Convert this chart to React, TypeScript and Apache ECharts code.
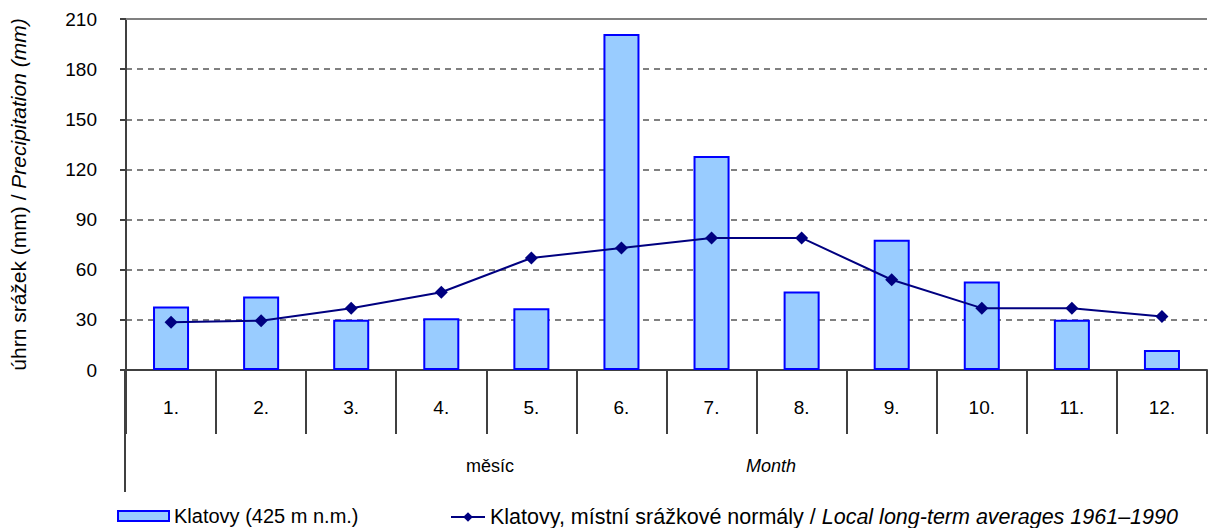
import React, { useEffect, useRef } from "react";
import * as echarts from "echarts";

const months = ["1.", "2.", "3.", "4.", "5.", "6.", "7.", "8.", "9.", "10.", "11.", "12."];
const precipitation = [38, 44, 30, 31, 37, 201, 128, 47, 78, 53, 30, 12];
const normals = [28.5, 29.5, 37, 46.5, 67, 73, 79, 79, 54, 37, 37, 32];
const barName = "Klatovy (425 m n.m.)";
const lineName = "Klatovy, místní srážkové normály / Local long-term averages 1961–1990";
const yTicks = { min: 0, max: 210, interval: 30 };

const FONT = "Liberation Sans, Arial, sans-serif";

export default function App() {
  const ref = useRef<HTMLDivElement>(null);
  useEffect(() => {
    document.body.style.margin = "0";
    const chart = echarts.init(ref.current!, undefined, { renderer: "svg" });
    chart.setOption({
      animation: false,
      textStyle: { fontFamily: FONT },
      grid: { left: 126, right: 1, top: 19, bottom: 158, containLabel: false },
      legend: [
        {
          data: [{ name: barName, icon: "rect" }],
          left: 117,
          top: 506,
          padding: 0,
          itemWidth: 51,
          itemHeight: 10,
          textStyle: { fontSize: 20, color: "#000", fontFamily: FONT },
          selectedMode: false,
        },
        {
          data: [lineName],
          left: 450,
          top: 506,
          padding: 0,
          itemWidth: 34,
          itemHeight: 12,
          selectedMode: false,
          formatter: () =>
            "{a|Klatovy, místní srážkové normály / }{b|Local long-term averages 1961–1990}",
          textStyle: {
            fontSize: 21.5,
            color: "#000",
            fontFamily: FONT,
            rich: {
              a: { fontSize: 21.5, color: "#000", fontFamily: FONT },
              b: { fontSize: 21.5, color: "#000", fontFamily: FONT, fontStyle: "italic" },
            },
          },
        },
      ],
      xAxis: {
        type: "category",
        data: months,
        boundaryGap: true,
        axisLine: { lineStyle: { color: "#404040", width: 2 } },
        axisTick: { show: true, length: 64, lineStyle: { color: "#404040", width: 2 } },
        axisLabel: { fontSize: 19, color: "#000", margin: 28, fontFamily: FONT },
        splitLine: { show: false },
      },
      yAxis: {
        type: "value",
        min: yTicks.min,
        max: yTicks.max,
        interval: yTicks.interval,
        name: "{a|úhrn srážek (mm) / }{b|Precipitation (mm)}",
        nameLocation: "middle",
        nameGap: 97,
        nameRotate: 90,
        nameTextStyle: {
          fontSize: 21,
          color: "#000",
          rich: {
            a: { fontSize: 21, color: "#000", fontFamily: FONT },
            b: { fontSize: 21, color: "#000", fontFamily: FONT, fontStyle: "italic" },
          },
        },
        axisLine: { show: true, lineStyle: { color: "#404040", width: 2 } },
        axisTick: { show: true, length: 6, lineStyle: { color: "#404040", width: 2 } },
        axisLabel: { fontSize: 19, color: "#000", margin: 29, fontFamily: FONT },
        splitLine: { show: true, lineStyle: { color: "#808080", width: 2, type: [6, 5] } },
      },
      graphic: [
        {
          type: "line",
          shape: { x1: 125, y1: 370, x2: 125, y2: 492 },
          style: { stroke: "#404040", lineWidth: 2 },
        },
        {
          type: "text",
          left: 466,
          top: 457,
          style: { text: "měsíc", fontSize: 18, fill: "#000", fontFamily: FONT },
        },
        {
          type: "text",
          left: 746,
          top: 457,
          style: { text: "Month", fontSize: 18, fill: "#000", fontFamily: FONT, fontStyle: "italic" },
        },
      ],
      series: [
        {
          name: barName,
          type: "bar",
          data: precipitation,
          barWidth: "40%",
          itemStyle: { color: "#99CCFF", borderColor: "#0000FF", borderWidth: 2 },
          markLine: {
            silent: true,
            symbol: "none",
            label: { show: false },
            lineStyle: { color: "#808080", type: "solid", width: 2 },
            data: [{ yAxis: 210 }],
          },
          z: 2,
        },
        {
          name: lineName,
          type: "line",
          data: normals,
          symbol: "diamond",
          symbolSize: 13,
          lineStyle: { color: "#000080", width: 2 },
          itemStyle: { color: "#000080" },
          z: 3,
        },
      ],
    });
    return () => chart.dispose();
  }, []);
  return <div ref={ref} style={{ width: 1208, height: 528 }} />;
}
